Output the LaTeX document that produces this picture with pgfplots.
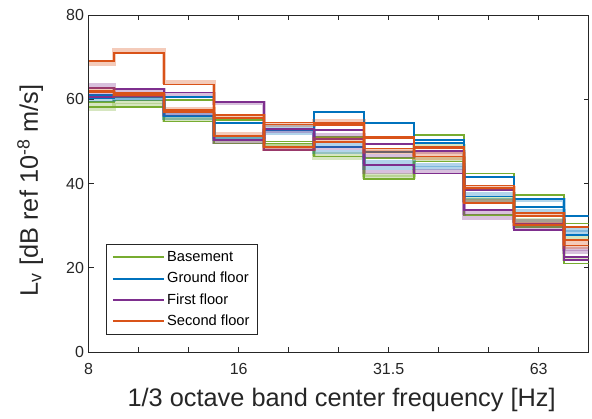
\documentclass[border=0pt]{standalone}
\usepackage{pgfplots}
\pgfplotsset{compat=1.18}
\usepackage{pgfplotstable}
\usepackage{fontspec}
\setmainfont{Liberation Sans}
\definecolor{mgreen}{HTML}{77AC30}
\definecolor{mblue}{HTML}{0072BD}
\definecolor{mpurple}{HTML}{7E2F8E}
\definecolor{morange}{HTML}{D95319}
\definecolor{axgray}{HTML}{262626}

% band index 0..10 = 8,10,12.5,16,20,25,31.5,40,50,63,80 Hz
\pgfplotstableread{
i  a    b    c    d
0  58.2 57.8 59.4 58.8
1  58.2 58.6 59.7 59.3
2  54.7 55.0 59.8 55.5
3  49.5 49.8 55.0 50.5
4  49.5 49.2 50.0 49.0
5  46.4 47.0 51.1 46.0
6  41.0 41.5 46.0 42.0
7  45.2 45.8 51.5 49.0
8  32.5 36.1 42.4 36.5
9  29.7 31.3 37.3 31.0
10 21.0 22.0 30.5 27.0
}\basement
\pgfplotstableread{
i  a    b    c    d
0  60.2 61.0 59.8 60.5
1  60.6 61.0 60.3 60.0
2  56.0 60.5 55.5 56.3
3  55.5 54.3 51.1 50.5
4  53.0 52.7 53.5 52.0
5  57.0 48.7 49.3 47.5
6  54.3 47.5 45.2 43.7
7  50.3 49.6 44.4 43.7
8  41.6 36.9 36.1 37.5
9  36.3 34.5 36.0 33.5
10 32.3 27.8 29.0 28.5
}\ground
\pgfplotstableread{
i  a    b    c    d
0  62.7 63.5 60.5 61.5
1  62.4 62.2 60.8 61.0
2  61.6 61.2 57.0 56.5
3  59.4 59.0 50.3 49.9
4  48.0 48.3 53.0 52.5
5  52.7 51.5 50.5 48.4
6  44.4 46.5 49.3 42.8
7  42.4 47.5 47.8 43.0
8  33.7 31.8 38.5 33.0
9  29.0 29.6 30.5 31.0
10 21.8 23.8 22.6 24.5
}\first
\pgfplotstableread{
i  a    b    c    d    e
0  69.0 68.3 62.0 61.6 62.5
1  71.0 71.6 61.4 61.0 60.8
2  63.5 64.0 57.4 57.0 57.8
3  51.3 51.8 56.3 55.5 56.0
4  54.5 54.0 48.7 54.0 48.3
5  54.3 54.8 49.9 53.9 50.5
6  48.3 47.8 51.0 50.7 47.5
7  46.4 47.0 48.5 48.7 46.0
8  39.5 39.0 35.4 38.9 35.8
9  32.2 32.8 30.1 33.0 30.5
10 25.3 25.8 26.6 29.7 25.0
}\second

\pgfplotsset{
  soft/.style={const plot mark mid, line width=3pt, opacity=0.3, forget plot},
  hard/.style={const plot mark mid, line width=1.3pt, forget plot},
}

\begin{document}
\begin{tikzpicture}
\begin{axis}[
  at={(0,0)}, anchor=south west,
  scale only axis, width=375pt, height=252.75pt,
  xmin=0, xmax=10, ymin=0, ymax=80,
  xtick={0,...,10},
  xticklabels={8,,,16,,,31.5,,,63,},
  ytick={0,20,40,60,80},
  tick align=inside,
  major tick length=3.75pt,
  tick style={axgray, line width=0.5pt},
  axis line style={axgray, line width=0.5pt},
  ticklabel style={font=\fontsize{12}{14}\selectfont, text=axgray},
  x tick label style={yshift=-5pt},
  /pgf/number format/assume math mode=true,
  no marks,
  xlabel={1/3 octave band center frequency [Hz]},
  ylabel={L\textsubscript{v} [dB ref 10\textsuperscript{-8} m/s]},
  xlabel style={at={(axis description cs:0.506,-0.142)}, anchor=center,
    font=\fontsize{19}{22}\selectfont, text=axgray},
  ylabel style={at={(axis description cs:-0.117,0.48)}, anchor=center,
    font=\fontsize{19}{22}\selectfont, text=axgray},
  legend style={at={(rel axis cs:0.035,0.05)}, anchor=south west,
    font=\fontsize{11}{13}\selectfont, draw=axgray, line width=0.5pt,
    nodes={inner sep=2pt, text height=9pt, text depth=3pt},
    inner xsep=4pt, inner ysep=2pt},
  legend cell align=left,
  legend image code/.code={\draw[#1] (0pt,0pt) -- (38pt,0pt);},
]
\addplot[soft, mgreen] table[x=i, y=b] {\basement};
\addplot[soft, mgreen] table[x=i, y=d] {\basement};
\addplot[hard, mgreen] table[x=i, y=a] {\basement};
\addplot[hard, mgreen] table[x=i, y=c] {\basement};

\addplot[soft, mblue] table[x=i, y=c] {\ground};
\addplot[soft, mblue] table[x=i, y=d] {\ground};
\addplot[hard, mblue] table[x=i, y=a] {\ground};
\addplot[hard, mblue] table[x=i, y=b] {\ground};

\addplot[soft, mpurple] table[x=i, y=b] {\first};
\addplot[soft, mpurple] table[x=i, y=d] {\first};
\addplot[hard, mpurple] table[x=i, y=a] {\first};
\addplot[hard, mpurple] table[x=i, y=c] {\first};

\addplot[soft, morange] table[x=i, y=b] {\second};
\addplot[soft, morange] table[x=i, y=e] {\second};
\addplot[hard, morange] table[x=i, y=c] {\second};
\addplot[hard, morange] table[x=i, y=d] {\second};
\addplot[hard, morange] table[x=i, y=a] {\second};

\addlegendimage{mgreen, line width=1.5pt}
\addlegendentry{Basement}
\addlegendimage{mblue, line width=1.5pt}
\addlegendentry{Ground floor}
\addlegendimage{mpurple, line width=1.5pt}
\addlegendentry{First floor}
\addlegendimage{morange, line width=1.5pt}
\addlegendentry{Second floor}
\end{axis}
\pgfresetboundingbox
\useasboundingbox (-66.5pt,-49.5pt) rectangle (377.5pt,264pt);
\end{tikzpicture}
\end{document}
